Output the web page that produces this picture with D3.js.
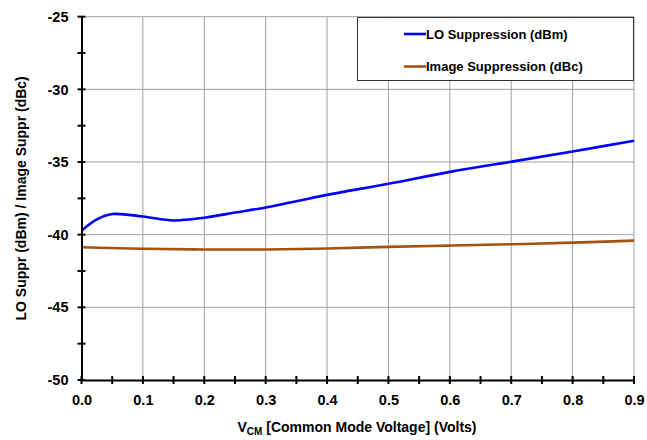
<!DOCTYPE html>
<html>
<head>
<meta charset="utf-8">
<script src="https://cdn.jsdelivr.net/npm/d3@7"></script>
<style>
  body { margin: 0; background: white; }
  text { font-family: "Liberation Sans", Arial, sans-serif; font-weight: bold; }
</style>
</head>
<body>
<div id="chart"></div>
<script>
// LO suppression (dBm) vs common mode voltage
const loX = [0, 0.025, 0.05, 0.1, 0.15, 0.2, 0.25, 0.3, 0.35, 0.4, 0.5, 0.6, 0.7, 0.8, 0.9];
const loY = [-39.73, -38.95, -38.58, -38.75, -39.02, -38.83, -38.48, -38.13, -37.7, -37.26, -36.5, -35.68, -34.98, -34.27, -33.54];

// Image suppression (dBc)
const imgX = [0, 0.1, 0.2, 0.3, 0.4, 0.5, 0.6, 0.7, 0.8, 0.9];
const imgY = [-40.87, -40.97, -41.02, -41.02, -40.95, -40.84, -40.75, -40.66, -40.55, -40.41];

const xTicks = [0, 0.1, 0.2, 0.3, 0.4, 0.5, 0.6, 0.7, 0.8, 0.9];
const xMinor = [0.05, 0.15, 0.25, 0.35, 0.45, 0.55, 0.65, 0.75, 0.85];
const yTicks = [-50, -45, -40, -35, -30, -25];
const yMinor = [-47.5, -42.5, -37.5, -32.5, -27.5];

const seriesNames = ["LO Suppression (dBm)", "Image Suppression (dBc)"];
const seriesColors = ["#0000ff", "#a3520f"];

function renderChart () {
    const wSvg = 647;
    const hSvg = 440;
    const left = 81.5, right = 634, top = 16.7, bottom = 380;

    let xScale = d3.scaleLinear([0, 0.9], [left, right]);
    let yScale = d3.scaleLinear([-50, -25], [bottom, top]);

    let svg = d3.select("#chart")
        .append("svg")
        .attr("width", wSvg)
        .attr("height", hSvg)
        .style("background-color", "white");

    // grid
    svg.append("g")
        .selectAll("line")
        .data(xTicks.slice(1))
        .enter()
        .append("line")
        .attr("x1", d => xScale(d)).attr("x2", d => xScale(d))
        .attr("y1", top).attr("y2", bottom)
        .attr("stroke", "#a0a0a0").attr("stroke-width", 1);

    svg.append("g")
        .selectAll("line")
        .data(yTicks.slice(1))
        .enter()
        .append("line")
        .attr("x1", left).attr("x2", right)
        .attr("y1", d => yScale(d)).attr("y2", d => yScale(d))
        .attr("stroke", "#a0a0a0").attr("stroke-width", 1);

    // series
    let line = d3.line()
        .x(d => xScale(d[0]))
        .y(d => yScale(d[1]))
        .curve(d3.curveCatmullRom.alpha(0.5));

    let loData = loX.map((x, i) => [x, loY[i]]);
    let imgData = imgX.map((x, i) => [x, imgY[i]]);

    [imgData, loData].forEach((data, k) => {
        svg.append("path")
            .datum(data)
            .attr("d", line)
            .attr("fill", "none")
            .attr("stroke", k == 0 ? seriesColors[1] : seriesColors[0])
            .attr("stroke-width", 2.6);
    });

    const tickFont = "'Liberation Sans', Arial, sans-serif";

    // axes
    let xAxis = d3.axisBottom(xScale).tickValues(xTicks).tickSize(0).tickPadding(15)
        .tickFormat(d3.format(".1f"));
    let gx = svg.append("g")
        .attr("transform", `translate(0, ${bottom})`)
        .call(xAxis);
    gx.select(".domain").attr("stroke", "black").attr("stroke-width", 2);
    gx.selectAll("text").attr("font-size", 14.5).attr("fill", "black")
        .style("font-family", tickFont).style("font-weight", "bold");

    let yAxis = d3.axisLeft(yScale).tickValues(yTicks).tickSize(0).tickPadding(13)
        .tickFormat(d => String(d));
    let gy = svg.append("g")
        .attr("transform", `translate(${left}, 0)`)
        .call(yAxis);
    gy.select(".domain").attr("stroke", "black").attr("stroke-width", 2);
    gy.selectAll("text").attr("font-size", 14.5).attr("fill", "black")
        .style("font-family", tickFont).style("font-weight", "bold");

    // cross ticks
    svg.append("g")
        .selectAll("line")
        .data(xTicks.concat(xMinor))
        .enter()
        .append("line")
        .attr("x1", d => xScale(d)).attr("x2", d => xScale(d))
        .attr("y1", bottom - 4).attr("y2", bottom + 4)
        .attr("stroke", "black").attr("stroke-width", 2);

    svg.append("g")
        .selectAll("line")
        .data(yTicks.concat(yMinor))
        .enter()
        .append("line")
        .attr("x1", left - 4).attr("x2", left + 4)
        .attr("y1", d => yScale(d)).attr("y2", d => yScale(d))
        .attr("stroke", "black").attr("stroke-width", 2);

    // legend
    let lg = svg.append("g");
    lg.append("rect")
        .attr("x", 357.5).attr("y", 17.5)
        .attr("width", 276).attr("height", 63)
        .attr("fill", "white").attr("stroke", "#333").attr("stroke-width", 1);

    seriesNames.forEach((name, i) => {
        let y = 34 + i * 32.5;
        lg.append("line")
            .attr("x1", 404).attr("x2", 426)
            .attr("y1", y).attr("y2", y)
            .attr("stroke", seriesColors[i]).attr("stroke-width", 2.6);
        lg.append("text")
            .attr("x", 426).attr("y", y + 4.5)
            .attr("font-size", 13)
            .text(name);
    });

    // titles
    let xt = svg.append("text")
        .attr("x", 357)
        .attr("y", 432)
        .attr("text-anchor", "middle")
        .attr("font-size", 14);
    xt.append("tspan").text("V");
    xt.append("tspan").attr("font-size", 10).attr("dy", 3).text("CM");
    xt.append("tspan").attr("dy", -3).text(" [Common Mode Voltage] (Volts)");

    svg.append("text")
        .attr("transform", `translate(26, ${(top + bottom) / 2}) rotate(-90)`)
        .attr("text-anchor", "middle")
        .attr("font-size", 14)
        .text("LO Suppr (dBm) / Image Suppr (dBc)");
}

renderChart();
</script>
</body>
</html>
